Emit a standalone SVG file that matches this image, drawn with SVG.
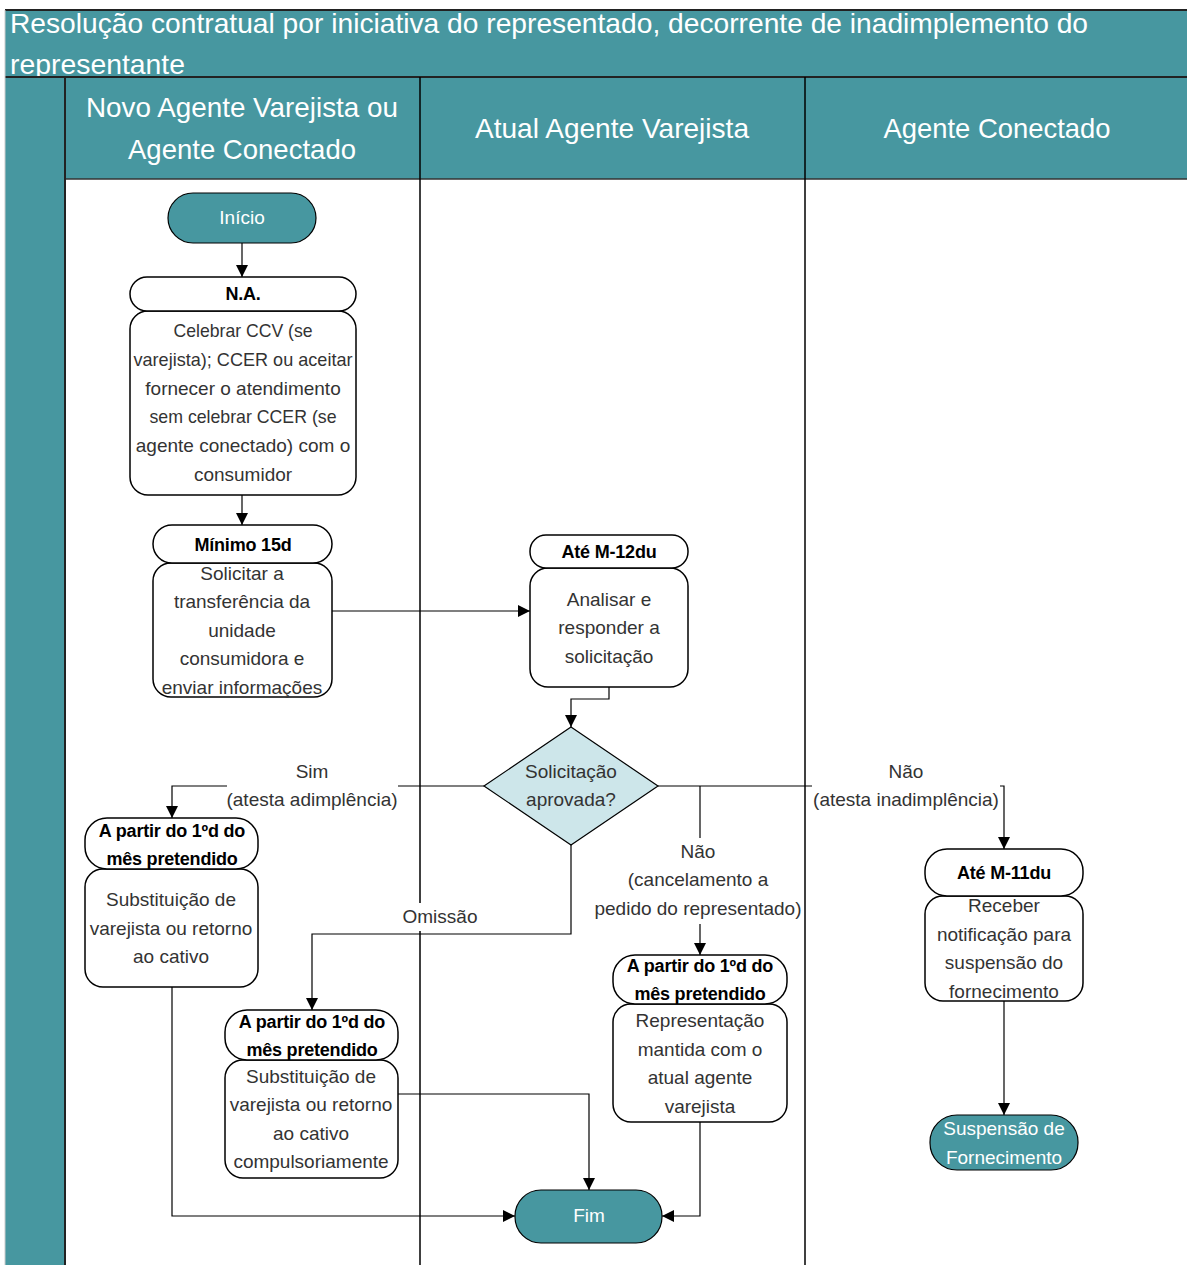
<svg xmlns="http://www.w3.org/2000/svg" width="1187" height="1265" viewBox="0 0 1187 1265">
<defs>
<marker id="arr" markerUnits="userSpaceOnUse" markerWidth="14" markerHeight="14" refX="12" refY="6" orient="auto">
<path d="M0,0 L12,6 L0,12 Z" fill="#000"/>
</marker>
<style>
.teal{fill:#4797A0}
.hdr{font-family:"Liberation Sans",Arial,sans-serif;fill:#fff;font-size:28px}
.box{fill:#fff;stroke:#000;stroke-width:1.5}
.term{fill:#4797A0;stroke:#000;stroke-width:1.2}
.t{font-family:"Liberation Sans",Arial,sans-serif;font-size:19px;fill:#333;text-anchor:middle}
.tw{font-family:"Liberation Sans",Arial,sans-serif;font-size:19px;fill:#fff;text-anchor:middle}
.b{font-family:"Liberation Sans",Arial,sans-serif;font-size:18px;font-weight:bold;fill:#000;text-anchor:middle;letter-spacing:-0.2px}
.c{fill:none;stroke:#000;stroke-width:1.2}
.lane{stroke:#000;stroke-width:1.5}
</style>
</defs>
<rect width="1187" height="1265" fill="#fff"/>
<g id="pool">
<rect x="5" y="10" width="1182" height="67" class="teal"/>
<line x1="5" y1="10" x2="1187" y2="10" stroke="#222" stroke-width="2"/>
<text class="hdr" x="10" y="33" textLength="1078" lengthAdjust="spacingAndGlyphs">Resolução contratual por iniciativa do representado, decorrente de inadimplemento do</text>
<text class="hdr" x="10" y="74" textLength="175" lengthAdjust="spacingAndGlyphs">representante</text>
<rect x="5" y="77" width="1182" height="102" class="teal"/>
<rect x="5" y="77" width="60" height="1188" class="teal"/>
<line x1="5" y1="77" x2="1187" y2="77" stroke="#222" stroke-width="2"/>
<line x1="65" y1="179" x2="1187" y2="179" stroke="#333" stroke-width="1.5"/>
<line x1="65" y1="77" x2="65" y2="1265" stroke="#222" stroke-width="2"/>
<line x1="5" y1="10" x2="5" y2="1265" stroke="#ccc" stroke-width="1"/>
<line class="lane" x1="420" y1="77" x2="420" y2="1265"/>
<line class="lane" x1="805" y1="77" x2="805" y2="1265"/>
<text class="hdr" x="242" y="117" text-anchor="middle" textLength="312" lengthAdjust="spacingAndGlyphs">Novo Agente Varejista ou</text>
<text class="hdr" x="242" y="159" text-anchor="middle" textLength="228" lengthAdjust="spacingAndGlyphs">Agente Conectado</text>
<text class="hdr" x="612" y="138" text-anchor="middle" textLength="274" lengthAdjust="spacingAndGlyphs">Atual Agente Varejista</text>
<text class="hdr" x="997" y="138" text-anchor="middle" textLength="227" lengthAdjust="spacingAndGlyphs">Agente Conectado</text>
</g>
<g id="connectors">
<path class="c" d="M242,243 V277" marker-end="url(#arr)"/>
<path class="c" d="M242,495 V525" marker-end="url(#arr)"/>
<path class="c" d="M332,611 H530" marker-end="url(#arr)"/>
<path class="c" d="M609,687 V699 H571 V727" marker-end="url(#arr)"/>
<path class="c" d="M484,786 H172 V818" marker-end="url(#arr)"/>
<path class="c" d="M658,786 H1004 V849" marker-end="url(#arr)"/>
<path class="c" d="M700,786 V955" marker-end="url(#arr)"/>
<path class="c" d="M571,845 V934 H312 V1010" marker-end="url(#arr)"/>
<path class="c" d="M172,987 V1216 H515" marker-end="url(#arr)"/>
<path class="c" d="M398,1094 H589 V1190" marker-end="url(#arr)"/>
<path class="c" d="M700,1122 V1216 H662" marker-end="url(#arr)"/>
<path class="c" d="M1004,1001 V1115" marker-end="url(#arr)"/>
<rect x="227" y="757" width="171" height="56" fill="#fff"/>
<text class="t" x="312" y="778">Sim</text>
<text class="t" x="312" y="806">(atesta adimplência)</text>
<rect x="812" y="757" width="188" height="56" fill="#fff"/>
<text class="t" x="906" y="778">Não</text>
<text class="t" x="906" y="806">(atesta inadimplência)</text>
<rect x="593" y="838" width="210" height="86" fill="#fff"/>
<text class="t" x="698" y="858">Não</text>
<text class="t" x="698" y="886">(cancelamento a</text>
<text class="t" x="698" y="915">pedido do representado)</text>
<rect x="403" y="903" width="74" height="28" fill="#fff"/>
<text class="t" x="440" y="923">Omissão</text>
</g>
<g id="inicio">
<rect class="term" x="168" y="193" width="148" height="50" rx="25"/>
<text class="tw" x="242" y="224">Início</text>
</g>
<g id="na">
<rect class="box" x="130" y="311" width="226" height="184" rx="18"/>
<rect class="box" x="130" y="277" width="226" height="34" rx="17"/>
<text class="b" x="243" y="300">N.A.</text>
<text class="t" x="243" y="337" textLength="139" lengthAdjust="spacingAndGlyphs">Celebrar CCV (se</text>
<text class="t" x="243" y="366" textLength="219" lengthAdjust="spacingAndGlyphs">varejista); CCER ou aceitar</text>
<text class="t" x="243" y="395">fornecer o atendimento</text>
<text class="t" x="243" y="423" textLength="187" lengthAdjust="spacingAndGlyphs">sem celebrar CCER (se</text>
<text class="t" x="243" y="452">agente conectado) com o</text>
<text class="t" x="243" y="481">consumidor</text>
</g>
<g id="minimo">
<rect class="box" x="153" y="563" width="179" height="134" rx="18"/>
<rect class="box" x="153" y="525" width="179" height="38" rx="19"/>
<text class="b" x="243" y="551">Mínimo 15d</text>
<text class="t" x="242" y="580">Solicitar a</text>
<text class="t" x="242" y="608">transferência da</text>
<text class="t" x="242" y="637">unidade</text>
<text class="t" x="242" y="665">consumidora e</text>
<text class="t" x="242" y="694">enviar informações</text>
</g>
<g id="analisar">
<rect class="box" x="530" y="568" width="158" height="119" rx="18"/>
<rect class="box" x="530" y="535" width="158" height="33" rx="16"/>
<text class="b" x="609" y="558">Até M-12du</text>
<text class="t" x="609" y="606">Analisar e</text>
<text class="t" x="609" y="634">responder a</text>
<text class="t" x="609" y="663">solicitação</text>
</g>
<g id="decisao">
<path d="M571,727 L658,786 L571,845 L484,786 Z" fill="#CDE6EA" stroke="#000" stroke-width="1.2"/>
<text class="t" x="571" y="778">Solicitação</text>
<text class="t" x="571" y="806">aprovada?</text>
</g>
<g id="sim">
<rect class="box" x="85" y="869" width="173" height="118" rx="18"/>
<rect class="box" x="85" y="818" width="173" height="51" rx="22"/>
<text class="b" x="172" y="837">A partir do 1ºd do</text>
<text class="b" x="172" y="865">mês pretendido</text>
<text class="t" x="171" y="906">Substituição de</text>
<text class="t" x="171" y="935">varejista ou retorno</text>
<text class="t" x="171" y="963">ao cativo</text>
</g>
<g id="omissao">
<rect class="box" x="225" y="1060" width="173" height="118" rx="18"/>
<rect class="box" x="225" y="1010" width="173" height="50" rx="22"/>
<text class="b" x="312" y="1028">A partir do 1ºd do</text>
<text class="b" x="312" y="1056">mês pretendido</text>
<text class="t" x="311" y="1083">Substituição de</text>
<text class="t" x="311" y="1111">varejista ou retorno</text>
<text class="t" x="311" y="1140">ao cativo</text>
<text class="t" x="311" y="1168">compulsoriamente</text>
</g>
<g id="cancelamento">
<rect class="box" x="613" y="1004" width="174" height="118" rx="18"/>
<rect class="box" x="613" y="955" width="174" height="49" rx="22"/>
<text class="b" x="700" y="972">A partir do 1ºd do</text>
<text class="b" x="700" y="1000">mês pretendido</text>
<text class="t" x="700" y="1027">Representação</text>
<text class="t" x="700" y="1056">mantida com o</text>
<text class="t" x="700" y="1084">atual agente</text>
<text class="t" x="700" y="1113">varejista</text>
</g>
<g id="notificacao">
<rect class="box" x="925" y="896" width="158" height="105" rx="18"/>
<rect class="box" x="925" y="849" width="158" height="47" rx="22"/>
<text class="b" x="1004" y="879">Até M-11du</text>
<text class="t" x="1004" y="912">Receber</text>
<text class="t" x="1004" y="941">notificação para</text>
<text class="t" x="1004" y="969">suspensão do</text>
<text class="t" x="1004" y="998">fornecimento</text>
</g>
<g id="suspensao">
<rect class="term" x="930" y="1115" width="148" height="55" rx="27"/>
<text class="tw" x="1004" y="1135">Suspensão de</text>
<text class="tw" x="1004" y="1164">Fornecimento</text>
</g>
<g id="fim">
<rect class="term" x="515" y="1190" width="147" height="53" rx="26"/>
<text class="tw" x="589" y="1222">Fim</text>
</g>
</svg>
